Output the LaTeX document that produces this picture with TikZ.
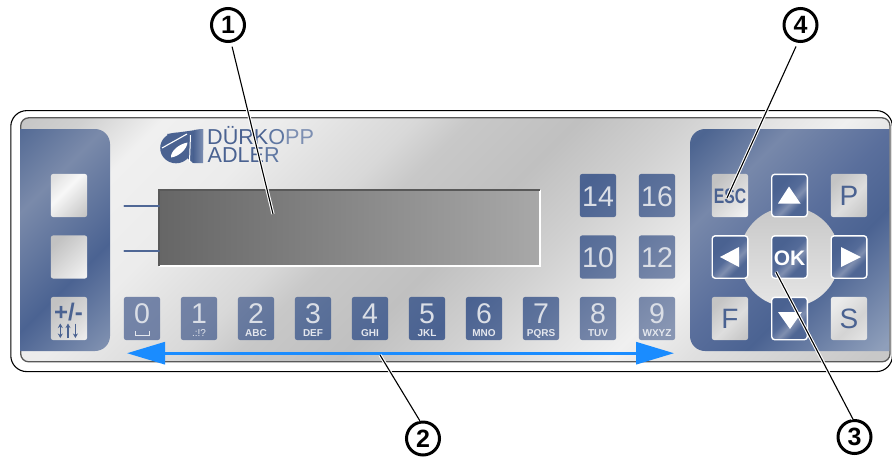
\documentclass[tikz,border=0pt]{standalone}
\usepackage{fontspec}
\setmainfont{Liberation Sans}
\usetikzlibrary{arrows.meta}
\definecolor{logoblue}{HTML}{4A6291}
\definecolor{logomid}{HTML}{5F77A2}
\definecolor{logolight}{HTML}{7D8FB2}
\definecolor{keytext}{HTML}{DADEE6}
\definecolor{subtext}{HTML}{E4E7EE}
\definecolor{bluearrow}{HTML}{1A8CFF}
\definecolor{tickblue}{HTML}{4F6795}
\definecolor{cA}{HTML}{C8C8C8}
\definecolor{cB}{HTML}{E6E6E6}
% t = 50 + (d-690)*0.025 with d = x+y in pixels
\pgfdeclarehorizontalshading{metal}{100bp}{
 rgb(0bp)=(.77,.77,.77); rgb(36bp)=(.77,.77,.77); rgb(37.75bp)=(.816,.816,.816);
 rgb(39.75bp)=(.941,.941,.941); rgb(42.75bp)=(.925,.925,.925); rgb(44.75bp)=(.878,.878,.878);
 rgb(46.15bp)=(.847,.847,.847); rgb(47.5bp)=(.784,.784,.784); rgb(50.25bp)=(.753,.753,.753);
 rgb(52.75bp)=(.816,.816,.816); rgb(55.25bp)=(.894,.894,.894); rgb(57bp)=(.941,.941,.941);
 rgb(59bp)=(.878,.878,.878); rgb(63.5bp)=(.784,.784,.784); rgb(100bp)=(.784,.784,.784)}
\pgfdeclarehorizontalshading{bluepanel}{100bp}{
 rgb(0bp)=(.302,.396,.569); rgb(36bp)=(.302,.396,.569); rgb(38.5bp)=(.478,.541,.667);
 rgb(41.5bp)=(.294,.388,.573); rgb(44bp)=(.498,.565,.69); rgb(53.7bp)=(.302,.396,.569);
 rgb(55.75bp)=(.467,.533,.667); rgb(58.35bp)=(.353,.435,.612); rgb(60.25bp)=(.294,.388,.573);
 rgb(63.6bp)=(.561,.624,.733); rgb(100bp)=(.561,.624,.733)}
\pgfdeclarehorizontalshading{bluekeys}{100bp}{
 rgb(0bp)=(.455,.518,.659); rgb(43.75bp)=(.455,.518,.659); rgb(45.75bp)=(.439,.502,.639);
 rgb(48.5bp)=(.353,.439,.6); rgb(52bp)=(.29,.384,.569); rgb(54.25bp)=(.369,.451,.612);
 rgb(55.75bp)=(.443,.51,.651); rgb(57.75bp)=(.533,.588,.702); rgb(100bp)=(.533,.588,.702)}
\pgfdeclarehorizontalshading{arrowkey}{100bp}{
 rgb(0bp)=(.29,.384,.569); rgb(32bp)=(.29,.384,.569); rgb(48bp)=(.33,.42,.6);
 rgb(58bp)=(.5,.56,.69); rgb(68bp)=(.31,.4,.58); rgb(100bp)=(.31,.4,.58)}
\pgfdeclarehorizontalshading{greyA}{100bp}{
 rgb(0bp)=(.88,.88,.88); rgb(20bp)=(.88,.88,.88); rgb(42bp)=(.97,.97,.97); rgb(85bp)=(.76,.76,.76); rgb(100bp)=(.76,.76,.76)}
\pgfdeclarehorizontalshading{greyB}{100bp}{
 rgb(0bp)=(.76,.76,.76); rgb(25bp)=(.76,.76,.76); rgb(85bp)=(.96,.96,.96); rgb(100bp)=(.96,.96,.96)}
\pgfdeclarehorizontalshading{greyC}{100bp}{
 rgb(0bp)=(.76,.76,.76); rgb(25bp)=(.76,.76,.76); rgb(60bp)=(.85,.85,.85); rgb(85bp)=(.94,.94,.94); rgb(100bp)=(.94,.94,.94)}
\pgfdeclarehorizontalshading{greyD}{100bp}{
 rgb(0bp)=(.77,.77,.77); rgb(25bp)=(.77,.77,.77); rgb(55bp)=(.87,.87,.87); rgb(85bp)=(.76,.76,.76); rgb(100bp)=(.76,.76,.76)}
\pgfdeclarehorizontalshading{greyE}{100bp}{
 rgb(0bp)=(.92,.92,.92); rgb(25bp)=(.92,.92,.92); rgb(58bp)=(.83,.83,.83); rgb(85bp)=(.9,.9,.9); rgb(100bp)=(.9,.9,.9)}
\newcommand{\kbox}[2]{(#1-18.2,#2-21.6) rectangle (#1+18.2,#2+21.6)}
\newcommand{\globsq}{(450-707.1,240-707.1) rectangle (450+707.1,240+707.1)}
\newcommand{\fs}[1]{\fontsize{#1}{#1}\selectfont}
\tikzset{
 greykey/.style={shade,shading=#1,shading angle=-45,rounded corners=2.5pt,minimum width=36.4pt,minimum height=43.2pt,inner sep=0pt,outer sep=0pt},
 arrowbtn/.style={shade,shading=arrowkey,shading angle=-45,draw=white,line width=1.4pt,rounded corners=3pt,minimum width=35.6pt,minimum height=42.4pt,inner sep=0pt,outer sep=0pt},
 digit/.style={anchor=base,inner sep=0pt,text=keytext,font=\fs{28.5}},
 subl/.style={anchor=base,inner sep=0pt,text=subtext,font=\fs{10}\bfseries},
 letter/.style={anchor=base,inner sep=0pt,text=logoblue,font=\fs{28}},
 logotext/.style={anchor=base west,inner sep=0pt,font=\fs{21.6}},
 callout/.style={circle,draw=black,line width=3pt,minimum size=33pt,inner sep=0pt,outer sep=1.5pt,font=\fs{25}\bfseries},
 leader/.style={draw=black,line width=1.1pt,preaction={draw=white,line width=3.2pt}},
 tickline/.style={draw=tickblue,line width=2.2pt,line cap=round},
 whitetri/.style={fill=white,draw=none},
 mini/.style={draw=logoblue,line width=1.6pt},
}
\begin{document}
\begin{tikzpicture}[x=1pt,y=-1pt]
\useasboundingbox (0,0) rectangle (892,456);
\clip (0,0) rectangle (892,456);
\fill[white] (0,0) rectangle (892,456);
% housing
\draw[black,line width=1.1pt,fill=white,rounded corners=16pt] (10.8,110.6) rectangle (892.4,371.6);
\begin{scope}
 \clip[rounded corners=8pt] (20.7,117.8) rectangle (890,361.8);
 \shade[shading=metal,shading angle=-45] \globsq;
\end{scope}
\draw[draw=black!65,line width=1.3pt,rounded corners=8pt] (20.7,117.8) rectangle (890,361.8);
% blue side panels
\begin{scope}
 \clip (20.1,129) [rounded corners=15pt] -- (110,129) -- (110,351) [sharp corners] -- (20.1,351) -- cycle
       (889.4,129) [rounded corners=15pt] -- (690,129) -- (690,351) [sharp corners] -- (889.4,351) -- cycle;
 \shade[shading=bluepanel,shading angle=-45] \globsq;
\end{scope}
% logo
\fill[logoblue] (176,148) ellipse [x radius=15.8pt,y radius=15.3pt];
\fill[logoblue] (167,134) -- (203,129) -- (203,150) -- (193,163) -- (178,150) -- cycle;
\shade[left color=logoblue,right color=logolight] (194,130) -- (203,129) -- (203,163) -- (193.5,163) -- cycle;
\fill[white] (171,157.5) .. controls (170.5,151) and (179,144) .. (187.5,142.5) .. controls (187,149) and (179,156.5) .. (171,157.5) -- cycle;
\draw[white,line width=1.1pt] (162,148) -- (187,134);
\draw[white,line width=1pt] (190.5,135) -- (189.5,162);
\node[logotext] (logoa) at (207,144) {\textcolor{logoblue}{DÜRK}\textcolor{logomid}{O}\textcolor{logolight}{PP}};
\node[logotext] (logob) at (207.5,162.5) {\textcolor{logoblue}{ADLE}\textcolor{logomid}{R}};
% display
\node[shade,left color=black!60,right color=black!34,minimum width=381pt,minimum height=76pt,inner sep=0pt,outer sep=0pt] (disp) at (349.5,228) {};
\draw[white,line width=1.2pt] (disp.south west) -- (disp.south east) -- (disp.north east);
\draw[black!65,line width=1.2pt] (disp.south west) -- (disp.north west) -- (disp.north east);
\coordinate (tA) at (124.5,206);
\coordinate (tB) at (124.5,251);
\draw[tickline] (tA) -- (tA -| disp.west);
\draw[tickline] (tB) -- (tB -| disp.west);
% grey keys, left
\node[greykey=greyA] (s1) at (69,195.5) {};
\node[greykey=greyB] (s2) at (69,257) {};
\node[greykey=greyC] (pm) at (69,318.5) {};
\node[anchor=base,inner sep=0pt,text=logoblue,font=\fs{24}\bfseries] (pmt) at (68.5,320) {+/-};
\draw[mini,{Stealth[length=4.5pt,width=5pt]}-{Stealth[length=4.5pt,width=5pt]}] (60.3,323.5) -- (60.3,338);
\draw[mini,-{Stealth[length=4.5pt,width=5pt]}] (68,338) -- (68,323.5);
\draw[mini,-{Stealth[length=4.5pt,width=5pt]}] (75.4,323.5) -- (75.4,338);
% blue number keys
\begin{scope}
 \clip[rounded corners=2.5pt] \kbox{142}{318.5} \kbox{199}{318.5} \kbox{256}{318.5} \kbox{313}{318.5}
   \kbox{370}{318.5} \kbox{427}{318.5} \kbox{484}{318.5} \kbox{541}{318.5} \kbox{598}{318.5} \kbox{657}{318.5}
   \kbox{598}{195.5} \kbox{657}{195.5} \kbox{598}{257} \kbox{657}{257};
 \shade[shading=bluekeys,shading angle=-45] \globsq;
\end{scope}
\node[digit] (n0) at (142,323.5) {0};
\node[digit] (n1) at (199,323.5) {1};
\node[digit] (n2) at (256,323.5) {2};
\node[digit] (n3) at (313,323.5) {3};
\node[digit] (n4) at (370,323.5) {4};
\node[digit] (n5) at (427,323.5) {5};
\node[digit] (n6) at (484,323.5) {6};
\node[digit] (n7) at (541,323.5) {7};
\node[digit] (n8) at (598,323.5) {8};
\node[digit] (n9) at (657,323.5) {9};
\draw[subtext,line width=1pt] (135,331) -- (135,335) -- (149,335) -- (149,331);
\node[subl,font=\fs{10}] (l1) at (199,336) {.:!?};
\node[subl] (l2) at (256,336) {ABC};
\node[subl] (l3) at (313,336) {DEF};
\node[subl] (l4) at (370,336) {GHI};
\node[subl] (l5) at (427,336) {JKL};
\node[subl] (l6) at (484,336) {MNO};
\node[subl] (l7) at (541,336) {PQRS};
\node[subl] (l8) at (598,336) {TUV};
\node[subl] (l9) at (657,336) {WXYZ};
\node[digit] (n14) at (598,206.5) {14};
\node[digit] (n16) at (657,206.5) {16};
\node[digit] (n10) at (598,267.5) {10};
\node[digit] (n12) at (657,267.5) {12};
% circle behind the arrow block
\shade[top color=cA,bottom color=cB] (789.5,257) circle [radius=50pt];
% right block keys
\node[greykey=greyB] (esc) at (730,195.5) {};
\node[anchor=base,inner sep=0pt,text=logoblue,font=\fs{21}\bfseries] (esct) at (730,203.5) {\scalebox{.75}[1]{ESC}};
\node[greykey=greyD] (p) at (849,195.5) {};
\node[letter] (pt) at (849,205.5) {P};
\node[greykey=greyD] (f) at (730,318.5) {};
\node[letter] (ft) at (730,328) {F};
\node[greykey=greyE] (s) at (849,318.5) {};
\node[letter] (st) at (849,328) {S};
\node[arrowbtn] (up) at (789.5,195.5) {};
\node[arrowbtn] (dn) at (789.5,318.5) {};
\node[arrowbtn] (lf) at (730,257) {};
\node[arrowbtn] (rt) at (849,257) {};
\node[arrowbtn] (ok) at (789.5,257) {};
\node[anchor=base,inner sep=0pt,text=white,font=\fs{21}\bfseries] (okt) at (789.5,265) {OK};
\fill[whitetri] (789,186.5) -- (800.5,203.5) -- (778,203.5) -- cycle;
\fill[whitetri] (790,329) -- (778,312) -- (802,312) -- cycle;
\fill[whitetri] (720,257) -- (739,247) -- (739,267) -- cycle;
\fill[whitetri] (861,257) -- (841,247) -- (841,267) -- cycle;
% blue double arrow
\coordinate (al) at (127,353.2);
\coordinate (ar) at (674,353.2);
\draw[bluearrow,line width=3pt,{Triangle[length=38pt,width=22pt]}-{Triangle[length=38pt,width=22pt]}] (al) -- (ar);
% call-outs
\node[callout] (c1) at (228,25) {1};
\node[callout] (c2) at (423,438.5) {2};
\node[callout] (c3) at (854.5,437) {3};
\node[callout] (c4) at (800.5,25) {4};
\coordinate (e1) at (273,214);
\coordinate (e2) at (380,355);
\coordinate (e3) at (776,272);
\coordinate (e4) at (727,198);
\draw[leader,shorten <=4pt] (c1.-80) -- (e1);
\draw[leader] (c2.100) -- (e2);
\draw[leader] (c3.95) -- (e3);
\draw[leader,shorten <=4pt] (c4.-99) -- (e4);
\end{tikzpicture}
\end{document}
